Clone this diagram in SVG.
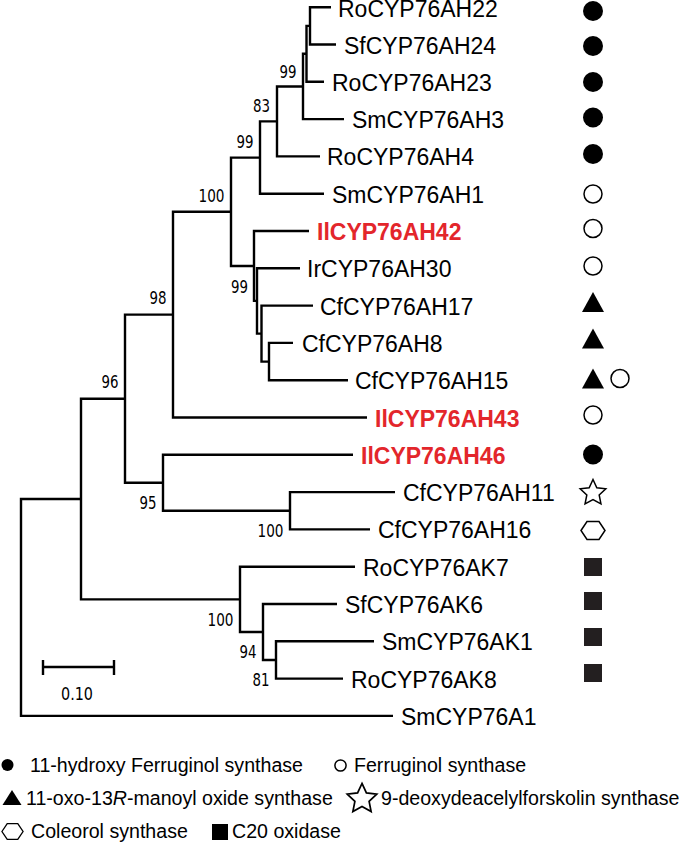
<svg xmlns="http://www.w3.org/2000/svg" xmlns:xlink="http://www.w3.org/1999/xlink" width="685" height="844" viewBox="0 0 685 844">
<style>
.br{fill:none;stroke:#000;stroke-width:2.4;stroke-linejoin:miter;stroke-linecap:butt}
.lf{font-family:"Liberation Sans",Arial,sans-serif;font-size:23px;fill:#000}
.red{font-weight:bold;fill:#e3262b}
.bs{font-family:"DejaVu Sans",Verdana,sans-serif;font-size:17px;fill:#000;text-anchor:end}
.lg{font-family:"Liberation Sans",Arial,sans-serif;font-size:19.6px;fill:#000}
.fc{fill:#000}
.oc{fill:#fff;stroke:#000;stroke-width:1.5}
.sq{fill:#231f20}
.ol{fill:#fff;stroke:#000;stroke-width:1.5;stroke-linejoin:miter}
</style>
<defs>
<path id="star" d="M0,-13.5 L3.82,-5.26 L12.84,-4.17 L6.18,2.01 L7.94,10.92 L0,6.5 L-7.94,10.92 L-6.18,2.01 L-12.84,-4.17 L-3.82,-5.26 Z"/>
<path id="hex" d="M-12,0 L-6,-9 L6,-9 L12,0 L6,9 L-6,9 Z"/>
<path id="tri" d="M0,-10 L11,10 L-11,10 Z"/>
</defs>
<rect width="685" height="844" fill="#fff"/>

<g id="connectors">
<path class="br" d="M331 7.2 H310 V44.5 H336"/>
<path class="br" d="M310 25.85 H306.5 V81.8 H324"/>
<path class="br" d="M306.5 53.8 H303 V119.1 H344"/>
<path class="br" d="M303 86.5 H277 V156.4 H320"/>
<path class="br" d="M277 121.4 H260 V193.7 H324"/>
<path class="br" d="M293 342.9 H269 V380.2 H348"/>
<path class="br" d="M313 305.6 H261.5 V361.6 H269"/>
<path class="br" d="M300 268.3 H257 V333.6 H261.5"/>
<path class="br" d="M309 231 H254 V300.9 H257"/>
<path class="br" d="M260 157.6 H231 V266 H254"/>
<path class="br" d="M231 211.8 H173 V417.5 H367"/>
<path class="br" d="M395 492.1 H290 V529.4 H370"/>
<path class="br" d="M353 454.8 H163 V510.8 H290"/>
<path class="br" d="M173 314.6 H125 V482.8 H163"/>
<path class="br" d="M374 641.3 H276 V678.6 H343"/>
<path class="br" d="M337 604 H263 V660 H276"/>
<path class="br" d="M355 566.7 H240 V632 H263"/>
<path class="br" d="M125 398.7 H81 V599.4 H240"/>
<path class="br" d="M81 499 H21 V715.9 H393"/>
</g>

<g id="bootstrap">
<text class="bs" x="296.5" y="78.2" textLength="17" lengthAdjust="spacingAndGlyphs">99</text>
<text class="bs" x="270" y="112.2" textLength="17" lengthAdjust="spacingAndGlyphs">83</text>
<text class="bs" x="253.5" y="148.2" textLength="17" lengthAdjust="spacingAndGlyphs">99</text>
<text class="bs" x="224.5" y="202" textLength="26" lengthAdjust="spacingAndGlyphs">100</text>
<text class="bs" x="248" y="293" textLength="17" lengthAdjust="spacingAndGlyphs">99</text>
<text class="bs" x="166.5" y="304" textLength="17" lengthAdjust="spacingAndGlyphs">98</text>
<text class="bs" x="118.5" y="388" textLength="17" lengthAdjust="spacingAndGlyphs">96</text>
<text class="bs" x="156.5" y="509" textLength="17" lengthAdjust="spacingAndGlyphs">95</text>
<text class="bs" x="283.5" y="537" textLength="26" lengthAdjust="spacingAndGlyphs">100</text>
<text class="bs" x="233.5" y="626" textLength="26" lengthAdjust="spacingAndGlyphs">100</text>
<text class="bs" x="256.5" y="658" textLength="17" lengthAdjust="spacingAndGlyphs">94</text>
<text class="bs" x="269.5" y="686" textLength="17" lengthAdjust="spacingAndGlyphs">81</text>
</g>

<g id="scalebar">
<path class="br" d="M43 667 H114 M43 660 V675 M114 660 V675"/>
<text class="bs" x="93" y="700" textLength="32" lengthAdjust="spacingAndGlyphs">0.10</text>
</g>

<g id="leaf-RoCYP76AH22"><text class="lf" x="338" y="17">RoCYP76AH22</text><circle class="fc" cx="593" cy="11" r="10"/></g>
<g id="leaf-SfCYP76AH24"><text class="lf" x="344" y="53.5">SfCYP76AH24</text><circle class="fc" cx="593" cy="46" r="10"/></g>
<g id="leaf-RoCYP76AH23"><text class="lf" x="332" y="90.8">RoCYP76AH23</text><circle class="fc" cx="593" cy="82" r="10"/></g>
<g id="leaf-SmCYP76AH3"><text class="lf" x="352" y="128.1">SmCYP76AH3</text><circle class="fc" cx="593" cy="117.5" r="10"/></g>
<g id="leaf-RoCYP76AH4"><text class="lf" x="327" y="165.4">RoCYP76AH4</text><circle class="fc" cx="593" cy="154" r="10"/></g>
<g id="leaf-SmCYP76AH1"><text class="lf" x="332" y="202.7">SmCYP76AH1</text><circle class="oc" cx="593" cy="194" r="9"/></g>
<g id="leaf-IlCYP76AH42"><text class="lf red" x="317" y="240">IlCYP76AH42</text><circle class="oc" cx="593" cy="228.5" r="9"/></g>
<g id="leaf-IrCYP76AH30"><text class="lf" x="307" y="277.3">IrCYP76AH30</text><circle class="oc" cx="593" cy="266" r="9"/></g>
<g id="leaf-CfCYP76AH17"><text class="lf" x="320" y="314.6">CfCYP76AH17</text><use href="#tri" class="fc" x="593" y="302"/></g>
<g id="leaf-CfCYP76AH8"><text class="lf" x="302" y="351.9">CfCYP76AH8</text><use href="#tri" class="fc" x="593" y="338.5"/></g>
<g id="leaf-CfCYP76AH15"><text class="lf" x="355" y="389.2">CfCYP76AH15</text><use href="#tri" class="fc" x="593" y="378.5"/><circle class="oc" cx="620" cy="378.5" r="9"/></g>
<g id="leaf-IlCYP76AH43"><text class="lf red" x="375" y="426.5">IlCYP76AH43</text><circle class="oc" cx="593" cy="415" r="9"/></g>
<g id="leaf-IlCYP76AH46"><text class="lf red" x="361" y="463.8">IlCYP76AH46</text><circle class="fc" cx="593" cy="454.5" r="10"/></g>
<g id="leaf-CfCYP76AH11"><text class="lf" x="403" y="501.1">CfCYP76AH11</text><use href="#star" class="ol" x="593" y="493"/></g>
<g id="leaf-CfCYP76AH16"><text class="lf" x="378" y="538.4">CfCYP76AH16</text><use href="#hex" class="ol" x="593" y="530.5"/></g>
<g id="leaf-RoCYP76AK7"><text class="lf" x="363" y="575.7">RoCYP76AK7</text><rect class="sq" x="584" y="558" width="18" height="18"/></g>
<g id="leaf-SfCYP76AK6"><text class="lf" x="345" y="613">SfCYP76AK6</text><rect class="sq" x="584" y="592" width="18" height="18"/></g>
<g id="leaf-SmCYP76AK1"><text class="lf" x="382" y="650.3">SmCYP76AK1</text><rect class="sq" x="584" y="628" width="18" height="18"/></g>
<g id="leaf-RoCYP76AK8"><text class="lf" x="351" y="687.6">RoCYP76AK8</text><rect class="sq" x="584" y="664" width="18" height="18"/></g>
<g id="leaf-SmCYP76A1"><text class="lf" x="401" y="724.9">SmCYP76A1</text></g>

<g id="legend">
<circle class="fc" cx="7.5" cy="765" r="6"/>
<text class="lg" x="30" y="772">11-hydroxy Ferruginol synthase</text>
<circle class="oc" cx="340.5" cy="765.5" r="5.6" stroke-width="1.3"/>
<text class="lg" x="354" y="772">Ferruginol synthase</text>
<path class="fc" d="M12 790 L21.5 805 L2.5 805 Z"/>
<text class="lg" x="26" y="805">11-oxo-13<tspan font-style="italic">R</tspan>-manoyl oxide synthase</text>
<use href="#star" class="ol" transform="translate(362 799) scale(1.15)"/>
<text class="lg" x="381" y="805">9-deoxydeacelylforskolin synthase</text>
<use href="#hex" class="ol" transform="translate(12.5 831.5) scale(0.88)"/>
<text class="lg" x="31" y="838">Coleorol synthase</text>
<rect class="fc" x="212" y="824" width="16" height="16"/>
<text class="lg" x="232" y="838">C20 oxidase</text>
</g>
</svg>
